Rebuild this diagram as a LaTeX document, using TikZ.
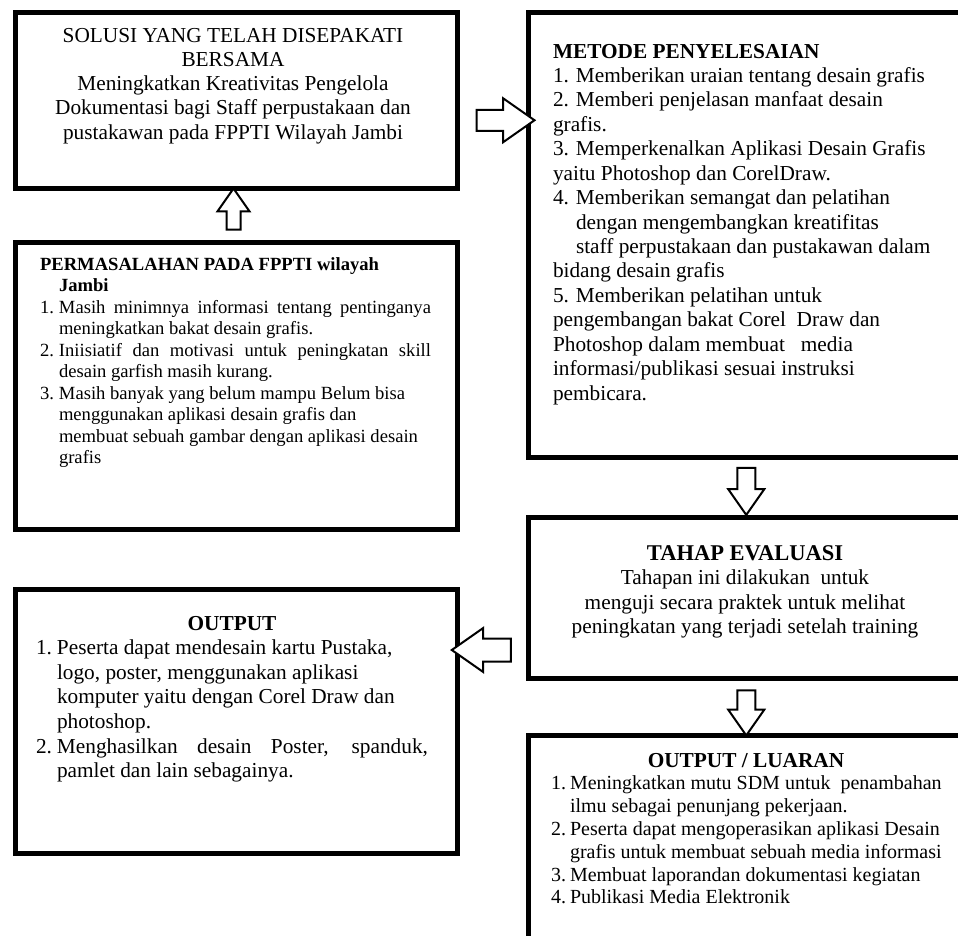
\documentclass[tikz,border=0pt]{standalone}
\usepackage{fontspec}
\setmainfont{Liberation Serif}
\usetikzlibrary{shapes.arrows,calc}
\tikzset{
  box/.style={draw=black, line width=5pt, rectangle, inner sep=0pt, anchor=north west},
  txt/.style={inner sep=0pt, outer sep=0pt},
  barrow/.style={single arrow, draw=black, fill=white, line width=2pt, inner xsep=0pt,
    single arrow tip angle=70, single arrow head indent=0pt, anchor=center},
}
\newcommand\Rl[1]{\hbox{#1}}
\newcommand\Jl[2]{\hbox to #1{#2}}
\newcommand\Cl[1]{\hbox to \hsize{\hfil#1\hfil}}
\newcommand\Nm[2]{\hbox to #1{#2\hss}}
\begin{document}
\begin{tikzpicture}[x=1pt,y=-1pt]
\fill[white] (0,0) rectangle (958,935);
\useasboundingbox (0,0) rectangle (958,935);
% boxes
\node[box, minimum width=442pt, minimum height=176pt] (A) at (12.5,9.5) {};
\node[box, minimum width=442pt, minimum height=287pt] (B) at (12.5,239.5) {};
\node[box, minimum width=442pt, minimum height=264pt] (C) at (12.5,587) {};
\node[box, minimum width=436.5pt, minimum height=445pt] (D) at (525.5,9.5) {};
\node[box, minimum width=436.5pt, minimum height=161pt] (E) at (525.5,514.5) {};
\node[box, minimum width=436.5pt, minimum height=227.5pt] (F) at (525.5,732.5) {};
% block arrows
\node[barrow, rotate=90, minimum height=41pt, inner ysep=6pt, single arrow head extend=9pt]
  (ar1) at ($(A.south)!0.5!(B.north)+(-2.5,-1)$) {};
\node[barrow, minimum height=58pt, inner ysep=9.5pt, single arrow head extend=11.5pt]
  (ar2) at ($(A.east)+(38.5,20.25)$) {};
\node[barrow, rotate=-90, minimum height=47pt, inner ysep=8pt, single arrow head extend=9pt]
  (ar3) at ($(D.south)!0.5!(E.north)+(0,-2)$) {};
\node[barrow, rotate=180, minimum height=59pt, inner ysep=10.5pt, single arrow head extend=10.5pt]
  (ar4) at ($(E.west)+(-36,52.5)$) {};
\node[barrow, rotate=-90, minimum height=45pt, inner ysep=8pt, single arrow head extend=9pt]
  (ar5) at ($(E.south)!0.5!(F.north)$) {};
% texts
\node[txt, anchor=base] (tA) at (233,42) {\vtop{\hsize=440pt\fontsize{21.3}{24.3}\selectfont
\Cl{SOLUSI YANG TELAH DISEPAKATI}
\Cl{BERSAMA}
\Cl{Meningkatkan Kreativitas Pengelola}
\Cl{Dokumentasi bagi Staff perpustakaan dan}
\Cl{pustakawan pada FPPTI Wilayah Jambi}}};
\node[txt, anchor=base west] (tB) at (40,270) {\vtop{\hsize=391pt\fontsize{18.6}{21.5}\selectfont
\Rl{\bfseries PERMASALAHAN PADA FPPTI wilayah}
\Rl{\Nm{19pt}{}\bfseries Jambi}
\Jl{391pt}{\Nm{19pt}{1.}Masih minimnya informasi tentang pentinganya}
\Rl{\Nm{19pt}{}meningkatkan bakat desain grafis.}
\Jl{391pt}{\Nm{19pt}{2.}Iniisiatif dan motivasi untuk peningkatan skill}
\Rl{\Nm{19pt}{}desain garfish masih kurang.}
\Rl{\Nm{19pt}{3.}Masih banyak yang belum mampu Belum bisa}
\Rl{\Nm{19pt}{}menggunakan aplikasi desain grafis dan}
\Rl{\Nm{19pt}{}membuat sebuah gambar dengan aplikasi desain}
\Rl{\Nm{19pt}{}grafis}}};
\node[txt, anchor=base west] (tC) at (36,630) {\vtop{\hsize=392pt\fontsize{21.3}{24.6}\selectfont
\Cl{\bfseries OUTPUT}
\Rl{\Nm{21pt}{1.}Peserta dapat mendesain kartu Pustaka,}
\Rl{\Nm{21pt}{}logo, poster, menggunakan aplikasi}
\Rl{\Nm{21pt}{}komputer yaitu dengan Corel Draw dan}
\Rl{\Nm{21pt}{}photoshop.}
\Jl{392pt}{\Nm{21pt}{2.}Menghasilkan desain Poster, spanduk,}
\Rl{\Nm{21pt}{}pamlet dan lain sebagainya.}}};
\node[txt, anchor=base west] (tD) at (553,58) {\vtop{\hsize=405pt\fontsize{21.3}{24.43}\selectfont
\Rl{\bfseries METODE PENYELESAIAN}
\Rl{\Nm{23pt}{1.}Memberikan uraian tentang desain grafis}
\Rl{\Nm{23pt}{2.}Memberi penjelasan manfaat desain}
\Rl{grafis.}
\Rl{\Nm{23pt}{3.}Memperkenalkan Aplikasi Desain Grafis}
\Rl{yaitu Photoshop dan CorelDraw.}
\Rl{\Nm{23pt}{4.}Memberikan semangat dan pelatihan}
\Rl{\Nm{23pt}{}dengan mengembangkan kreatifitas}
\Rl{\Nm{23pt}{}staff perpustakaan dan pustakawan dalam}
\Rl{bidang desain grafis}
\Rl{\Nm{23pt}{5.}Memberikan pelatihan untuk}
\Rl{pengembangan bakat Corel~ Draw dan}
\Rl{Photoshop dalam membuat~~ media}
\Rl{informasi/publikasi sesuai instruksi}
\Rl{pembicara.}}};
\node[txt, anchor=base] (tE) at (745,560) {\vtop{\hsize=420pt\fontsize{21.3}{24.5}\selectfont
\Cl{\fontsize{22.5}{24.5}\selectfont\bfseries TAHAP EVALUASI}
\Cl{Tahapan ini dilakukan~ untuk}
\Cl{menguji secara praktek untuk melihat}
\Cl{peningkatan yang terjadi setelah training}}};
\node[txt, anchor=base west] (tF) at (551,767) {\vtop{\hsize=390pt\fontsize{20}{22.8}\selectfont
\Cl{\fontsize{21.3}{22.8}\selectfont\bfseries OUTPUT / LUARAN}
\Rl{\Nm{19pt}{1.}Meningkatkan mutu SDM untuk~ penambahan}
\Rl{\Nm{19pt}{}ilmu sebagai penunjang pekerjaan.}
\Rl{\Nm{19pt}{2.}Peserta dapat mengoperasikan aplikasi Desain}
\Rl{\Nm{19pt}{}grafis untuk membuat sebuah media informasi}
\Rl{\Nm{19pt}{3.}Membuat laporandan dokumentasi kegiatan}
\Rl{\Nm{19pt}{4.}Publikasi Media Elektronik}}};
\end{tikzpicture}
\end{document}
